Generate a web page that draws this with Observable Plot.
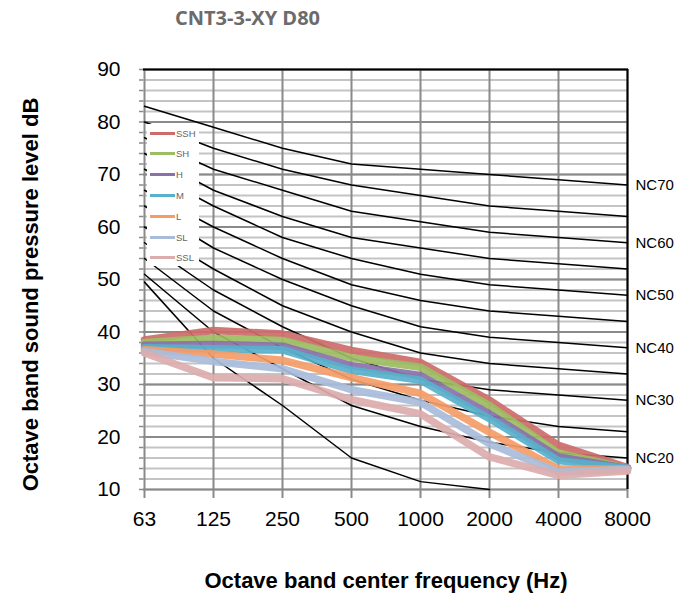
<!DOCTYPE html>
<html>
<head>
<meta charset="utf-8">
<script src="https://cdn.jsdelivr.net/npm/d3@7"></script>
<script src="https://cdn.jsdelivr.net/npm/@observablehq/plot@0.6"></script>
<style>
  html, body { margin: 0; padding: 0; background: #fff; }
  #wrap { position: relative; width: 692px; height: 599px; font-family: "Liberation Sans", Arial, sans-serif; }
  #title { height: 35px; line-height: 35px; padding-left: 175px; font-family: "Open Sans", sans-serif; font-weight: 700; font-size: 20px; color: #6b6b6b; box-sizing: border-box; }
  #legend { position: absolute; left: 147px; top: 124px; width: 52px; height: 142px; background: #fff; }
  .item { position: absolute; left: 3px; height: 12px; display: flex; align-items: center; }
  .sw { width: 25px; height: 3px; }
  .lab { font-size: 9.5px; color: #666; margin-left: 1px; font-family: "Liberation Sans", Arial, sans-serif; }
</style>
</head>
<body>
<div id="wrap">
  <div id="title">CNT3-3-XY D80</div>
  <div id="chart"></div>
  <div id="legend"></div>
</div>
<script>
// Octave band centre frequencies (Hz)
const freqs = ["63", "125", "250", "500", "1000", "2000", "4000", "8000"];

// Noise criterion reference curves (dB per octave band)
const ncNames = ["NC70", "NC65", "NC60", "NC55", "NC50", "NC45", "NC40", "NC35", "NC30", "NC25", "NC20", "NC15"];
const nc70 = [83, 79, 75, 72, 71, 70, 69, 68];
const nc65 = [80, 75, 71, 68, 66, 64, 63, 62];
const nc60 = [77, 71, 67, 63, 61, 59, 58, 57];
const nc55 = [74, 67, 62, 58, 56, 54, 53, 52];
const nc50 = [71, 64, 58, 54, 51, 49, 48, 47];
const nc45 = [67, 60, 54, 49, 46, 44, 43, 42];
const nc40 = [64, 56, 50, 45, 41, 39, 38, 37];
const nc35 = [60, 52, 45, 40, 36, 34, 33, 32];
const nc30 = [57, 48, 41, 35, 31, 29, 28, 27];
const nc25 = [54, 44, 37, 31, 27, 24, 22, 21];
const nc20 = [51, 40, 33, 26, 22, 19, 17, 16];
const nc15 = [49.5, 35, 26, 16, 11.5, 10, null, null];
const ncCurves = [nc70, nc65, nc60, nc55, nc50, nc45, nc40, nc35, nc30, nc25, nc20, nc15];

// Labelled curves at the right edge
const ncLabels = ["NC70", "NC60", "NC50", "NC40", "NC30", "NC20"];
const ncLabelValues = [68, 57, 47, 37, 27, 16];

// Unit sound pressure levels by fan speed
const seriesNames = ["SSH", "SH", "H", "M", "L", "SL", "SSL"];
const seriesColors = ["#cd6c6a", "#9cbd62", "#8a71aa", "#58b0cb", "#f59c68", "#a9bcdb", "#dcadad"];
const ssh = [38.5, 40.3, 39.6, 36.5, 34.2, 27.0, 18.4, 14.2];
const sh  = [38.0, 38.8, 38.4, 35.1, 33.3, 26.0, 16.9, 14.0];
const h   = [37.5, 37.6, 37.3, 33.6, 31.7, 24.4, 16.2, 14.0];
const m   = [37.0, 36.8, 36.6, 32.7, 30.8, 23.5, 15.5, 14.0];
const l   = [36.6, 35.8, 34.6, 31.3, 28.3, 20.9, 13.9, 13.9];
const sl  = [36.3, 34.4, 33.0, 29.0, 26.6, 18.7, 13.3, 13.8];
const ssl = [36.0, 31.3, 31.1, 27.1, 24.4, 16.2, 12.7, 13.5];
const seriesValues = [ssh, sh, h, m, l, sl, ssl];

const ncData = ncCurves.flatMap((vals, i) =>
  vals.map((v, j) => ({curve: ncNames[i], freq: freqs[j], value: v})).filter(d => d.value != null));
const seriesData = seriesValues.flatMap((vals, i) =>
  vals.map((v, j) => ({series: seriesNames[i], freq: freqs[j], value: v})));
const labelData = ncLabels.map((t, i) => ({label: t, value: ncLabelValues[i]}));

const minorTicks = d3.range(10, 91, 2);
const majorTicks = d3.range(10, 91, 10);

const chart = Plot.plot({
  width: 692,
  height: 564,
  marginTop: 34,
  marginBottom: 110,
  marginLeft: 143,
  marginRight: 64,
  style: {fontFamily: "'Liberation Sans', Arial, sans-serif", background: "#fff", overflow: "visible"},
  x: {type: "point", domain: freqs, padding: 0, label: null},
  y: {domain: [10, 90], label: null},
  color: {domain: seriesNames, range: seriesColors},
  marks: [
    Plot.ruleY(minorTicks, {stroke: "#c4c4c4", strokeWidth: 2}),
    Plot.ruleY(majorTicks, {stroke: "#8a8a8a", strokeWidth: 2}),
    Plot.ruleX(freqs, {stroke: "#8a8a8a", strokeWidth: 2}),
    Plot.ruleY([90], {stroke: "#000", strokeWidth: 2}),
    Plot.ruleX(["8000"], {stroke: "#000", strokeWidth: 2}),
    Plot.axisY(minorTicks, {tickSize: 4, tickFormat: () => "", stroke: "#8a8a8a", strokeWidth: 1.5, label: null}),
    Plot.axisY(majorTicks, {tickSize: 0, tickPadding: 23, fontSize: 21, fill: "#000", label: null}),
    Plot.axisX({tickSize: 9, tickPadding: 13, fontSize: 21, fill: "#000", stroke: "#8a8a8a", strokeWidth: 2, label: null}),
    Plot.line(ncData, {x: "freq", y: "value", z: "curve", stroke: "#000", strokeWidth: 1.5}),
    Plot.line(seriesData, {x: "freq", y: "value", z: "series", stroke: "series", strokeWidth: 7.5, strokeOpacity: 0.92, strokeLinejoin: "round"}),
    Plot.text(labelData, {x: () => "8000", y: "value", text: "label", dx: 8, textAnchor: "start", fontSize: 15, fill: "#000"}),
    Plot.text(["Octave band sound pressure level dB"], {frameAnchor: "left", textAnchor: "middle", dx: -113, dy: 15, rotate: -90, fontSize: 22, fontWeight: "bold", fill: "#000"}),
    Plot.text(["Octave band center frequency (Hz)"], {frameAnchor: "bottom", textAnchor: "middle", dy: 98, fontSize: 22, fontWeight: "bold", fill: "#000"})
  ]
});
document.getElementById("chart").appendChild(chart);

// Legend box built from the series names and colours
const legend = d3.select("#legend");
seriesNames.forEach((name, i) => {
  const item = legend.append("div").attr("class", "item").style("top", (3 + i * 20.8) + "px");
  item.append("div").attr("class", "sw").style("background", seriesColors[i]);
  item.append("div").attr("class", "lab").text(name);
});
</script>
</body>
</html>
